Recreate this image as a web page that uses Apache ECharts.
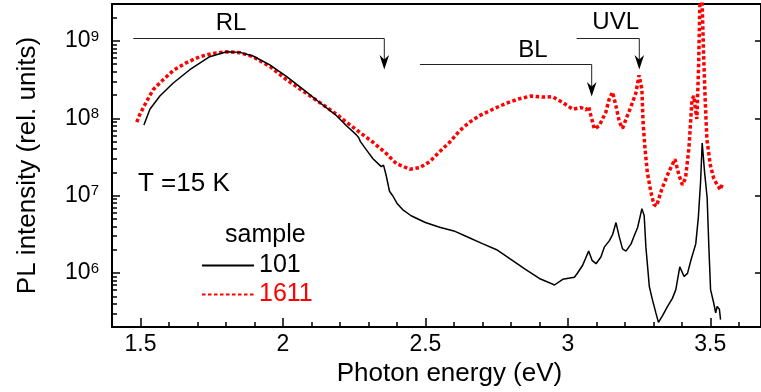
<!DOCTYPE html>
<html><head><meta charset="utf-8">
<script src="https://cdn.jsdelivr.net/npm/echarts@6/dist/echarts.min.js"></script>
<style>html,body{margin:0;padding:0;background:#fff}#c{width:761px;height:392px}</style>
</head><body><div id="c"></div>
<script>
// ---- data ----
const energy101 = [1.512,1.533,1.568,1.615,1.673,1.743,1.802,1.849,1.895,1.954,2.012,2.071,2.129,2.188,2.223,2.258,2.266,2.272,2.293,2.316,2.345,2.353,2.362,2.374,2.386,2.40,2.42,2.45,2.50,2.55,2.60,2.65,2.70,2.75,2.80,2.85,2.90,2.935,2.953,2.982,3.023,3.034,3.052,3.073,3.085,3.099,3.116,3.128,3.146,3.157,3.169,3.181,3.192,3.204,3.222,3.233,3.245,3.260,3.268,3.274,3.286,3.297,3.309,3.318,3.332,3.350,3.367,3.379,3.393,3.408,3.420,3.432,3.449,3.458,3.466,3.4716,3.480,3.489,3.495,3.501,3.512,3.519,3.524,3.532,3.536];
const intensity101 = [8.2e7,1.31e8,1.94e8,2.86e8,4.24e8,6.25e8,7.24e8,7.11e8,6.38e8,4.9e8,3.48e8,2.36e8,1.6e8,1.08e8,8.0e7,6.1e7,5.6e7,5.0e7,3.9e7,3.0e7,2.37e7,2.48e7,1.85e7,1.14e7,9.9e6,8.0e6,6.6e6,5.5e6,4.5e6,3.9e6,3.5e6,2.9e6,2.4e6,2.0e6,1.5e6,1.12e6,8.5e5,7.5e5,7.0e5,8.3e5,8.8e5,1.0e6,1.26e6,1.92e6,1.46e6,1.32e6,1.61e6,2.16e6,2.62e6,3.13e6,4.49e6,2.89e6,2.05e6,1.92e6,2.38e6,3.03e6,3.88e6,6.8e6,5.5e6,2.16e6,6.7e5,4.5e5,3.05e5,2.3e5,2.8e5,3.7e5,4.7e5,6.1e5,1.2e6,9.0e5,9.9e5,1.46e6,2.38e6,5.2e6,1.52e7,4.8e7,2.0e7,9.4e6,2.16e6,6.1e5,4.1e5,3.05e5,3.7e5,3.4e5,2.5e5];

const energy1611 = [1.487,1.498,1.522,1.545,1.580,1.615,1.662,1.708,1.755,1.802,1.849,1.895,1.954,2.012,2.071,2.129,2.188,2.223,2.269,2.316,2.363,2.398,2.445,2.480,2.515,2.550,2.585,2.620,2.655,2.690,2.737,2.783,2.830,2.871,2.912,2.947,2.982,3.017,3.046,3.064,3.073,3.081,3.093,3.110,3.133,3.145,3.157,3.169,3.181,3.192,3.209,3.227,3.239,3.250,3.260,3.264,3.271,3.279,3.291,3.302,3.311,3.331,3.355,3.376,3.390,3.402,3.413,3.425,3.436,3.442,3.448,3.453,3.459,3.464,3.469,3.473,3.476,3.482,3.488,3.500,3.512,3.524,3.536,3.541];
const intensity1611 = [8.9e7,1.13e8,1.67e8,2.36e8,3.16e8,4.15e8,5.25e8,6.25e8,6.9e8,7.24e8,7.03e8,6.25e8,4.67e8,3.16e8,2.24e8,1.6e8,1.13e8,8.9e7,6.6e7,4.9e7,3.5e7,2.6e7,2.2e7,2.3e7,2.75e7,3.7e7,4.9e7,6.9e7,8.9e7,1.08e8,1.31e8,1.56e8,1.79e8,1.94e8,1.88e8,1.9e8,1.6e8,1.31e8,1.38e8,1.28e8,1.42e8,1.08e8,7.3e7,8.0e7,1.19e8,1.76e8,2.18e8,1.44e8,8.9e7,7.4e7,1.08e8,1.6e8,2.14e8,3.6e8,2.36e8,8.9e7,4.0e7,2.0e7,1.14e7,7.7e6,7.3e6,1.25e7,2.05e7,2.96e7,1.85e7,1.38e7,1.68e7,4.1e7,1.76e8,1.94e8,1.31e8,9.8e7,4.7e8,4e9,5e9,2.0e9,7.6e8,1.76e8,5.4e7,2.5e7,1.68e7,1.38e7,1.19e7,1.38e7];

const seriesNames = ['101','1611'];
const xMajorTicks = [1.5,2,2.5,3,3.5];
const yDecades = [6,7,8,9];
const xRange = [1.4, 3.678];
const yRange = [2e5, 3e9];
const annotations = ['RL','BL','UVL'];
const tempLabel = 'T =15 K';
const legendTitle = 'sample';

// ---- build ----
const FONT = '"Liberation Sans", Arial, sans-serif';
const lg = v => Math.log10(v);
const pts = (xs, ys) => xs.map((x, i) => [x, lg(ys[i])]);
const xMinor = [];
for (let i = 14; i <= 36; i++) { if (i % 5 !== 0) xMinor.push(i / 10); }
const yMinor = [];
for (let n = 5; n <= 9; n++) for (let k = 2; k <= 9; k++) {
  const v = n + Math.log10(k);
  if (v > lg(yRange[0]) + 1e-6 && v < lg(yRange[1]) - 1e-6) yMinor.push(v);
}
const yMin = lg(yRange[0]), yMax = lg(yRange[1]);
const black = '#000';

const chart = echarts.init(document.getElementById('c'), null, {renderer: 'canvas'});
const baseX = {type: 'value', min: xRange[0], max: xRange[1], splitLine: {show: false}};
const baseY = {type: 'value', min: yMin, max: yMax, splitLine: {show: false}};

chart.setOption({
  animation: false,
  backgroundColor: '#fff',
  textStyle: {fontFamily: FONT},
  grid: {left: 112, right: -1, top: 4, bottom: 61.5},
  xAxis: [
    Object.assign({}, baseX, {
      position: 'bottom',
      axisLine: {show: true, lineStyle: {color: black, width: 2}},
      axisTick: {show: true, inside: true, length: 9, customValues: xMajorTicks, lineStyle: {color: black, width: 1.5}},
      axisLabel: {show: true, customValues: xMajorTicks, formatter: v => String(+(+v).toFixed(1)), fontSize: 23, color: black, fontFamily: FONT, margin: 6},
      name: 'Photon energy (eV)', nameLocation: 'middle', nameGap: 31,
      nameTextStyle: {fontSize: 26, color: black, fontFamily: FONT, padding: [0, 0, 0, 26]}
    }),
    Object.assign({}, baseX, {
      position: 'bottom',
      axisLine: {show: false},
      axisTick: {show: true, inside: true, length: 5, customValues: xMinor, lineStyle: {color: black, width: 1.5}},
      axisLabel: {show: false}
    }),
    Object.assign({}, baseX, {
      position: 'top',
      axisLine: {show: true, lineStyle: {color: black, width: 2}},
      axisTick: {show: false}, axisLabel: {show: false}
    })
  ],
  yAxis: [
    Object.assign({}, baseY, {
      position: 'left',
      axisLine: {show: true, lineStyle: {color: black, width: 2}},
      axisTick: {show: true, inside: true, length: 8, customValues: yDecades, lineStyle: {color: black, width: 1.5}},
      axisLabel: {
        show: true, customValues: yDecades, margin: 13, color: black,
        formatter: v => '{b|10}{s|' + Math.round(v) + '}',
        rich: {
          b: {fontSize: 23, fontFamily: FONT, color: black, lineHeight: 24},
          s: {fontSize: 15, fontFamily: FONT, color: black, verticalAlign: 'top', lineHeight: 12}
        }
      },
      name: 'PL intensity (rel. units)', nameLocation: 'middle', nameGap: 71, nameRotate: 90,
      nameTextStyle: {fontSize: 26, color: black, fontFamily: FONT}
    }),
    Object.assign({}, baseY, {
      position: 'left',
      axisLine: {show: false},
      axisTick: {show: true, inside: true, length: 5, customValues: yMinor, lineStyle: {color: black, width: 1.5}},
      axisLabel: {show: false}
    }),
    Object.assign({}, baseY, {
      position: 'right',
      axisLine: {show: true, lineStyle: {color: black, width: 2}},
      axisTick: {show: true, inside: true, length: 6, customValues: yDecades, lineStyle: {color: black, width: 1.5}},
      axisLabel: {show: false}
    })
  ],
  legend: {
    orient: 'vertical', left: 196, top: 248, itemWidth: 52, itemHeight: 12, itemGap: 4,
    itemStyle: {opacity: 0},
    data: [
      {name: seriesNames[0], textStyle: {color: black}},
      {name: seriesNames[1], textStyle: {color: '#ff0000'}}
    ],
    textStyle: {fontSize: 25, fontFamily: FONT}
  },
  series: [
    {
      name: seriesNames[1], type: 'line', data: pts(energy1611, intensity1611),
      xAxisIndex: 0, yAxisIndex: 0, symbol: 'none', clip: true,
      lineStyle: {color: '#ff0000', width: 3.5, type: [3.5, 2.5], cap: 'butt'},
      itemStyle: {color: '#ff0000'}
    },
    {
      name: seriesNames[0], type: 'line', data: pts(energy101, intensity101),
      xAxisIndex: 0, yAxisIndex: 0, symbol: 'none', clip: true,
      lineStyle: {color: black, width: 1.5},
      itemStyle: {color: black}
    }
  ],
  graphic: [
    {type: 'polyline', shape: {points: [[133.3, 38.5], [384.3, 38.5], [384.3, 60]]}, style: {stroke: '#222', lineWidth: 1, fill: null}},
    {type: 'polygon', shape: {points: [[384.3, 69.5], [379.5, 55], [384.3, 59.5], [389.1, 55]]}, style: {fill: '#000'}},
    {type: 'polyline', shape: {points: [[420, 64.5], [591.7, 64.5], [591.7, 87]]}, style: {stroke: '#222', lineWidth: 1, fill: null}},
    {type: 'polygon', shape: {points: [[591.7, 96.5], [586.9, 82], [591.7, 86.5], [596.5, 82]]}, style: {fill: '#000'}},
    {type: 'polyline', shape: {points: [[576.7, 38.5], [639.3, 38.5], [639.3, 60]]}, style: {stroke: '#222', lineWidth: 1, fill: null}},
    {type: 'polygon', shape: {points: [[639.3, 69.5], [634.5, 55], [639.3, 59.5], [644.1, 55]]}, style: {fill: '#000'}},
    {type: 'text', x: 231, y: 23, style: {text: annotations[0], fontSize: 24, fontFamily: FONT, fill: black, textAlign: 'center', textVerticalAlign: 'middle'}},
    {type: 'text', x: 533, y: 50, style: {text: annotations[1], fontSize: 24, fontFamily: FONT, fill: black, textAlign: 'center', textVerticalAlign: 'middle'}},
    {type: 'text', x: 615.7, y: 22, style: {text: annotations[2], fontSize: 24, fontFamily: FONT, fill: black, textAlign: 'center', textVerticalAlign: 'middle'}},
    {type: 'text', x: 138, y: 184, style: {text: tempLabel, fontSize: 26, fontFamily: FONT, fill: black, textAlign: 'left', textVerticalAlign: 'middle'}},
    {type: 'text', x: 225, y: 235, style: {text: legendTitle, fontSize: 25, fontFamily: FONT, fill: black, textAlign: 'left', textVerticalAlign: 'middle'}}
  ]
});
</script></body></html>
